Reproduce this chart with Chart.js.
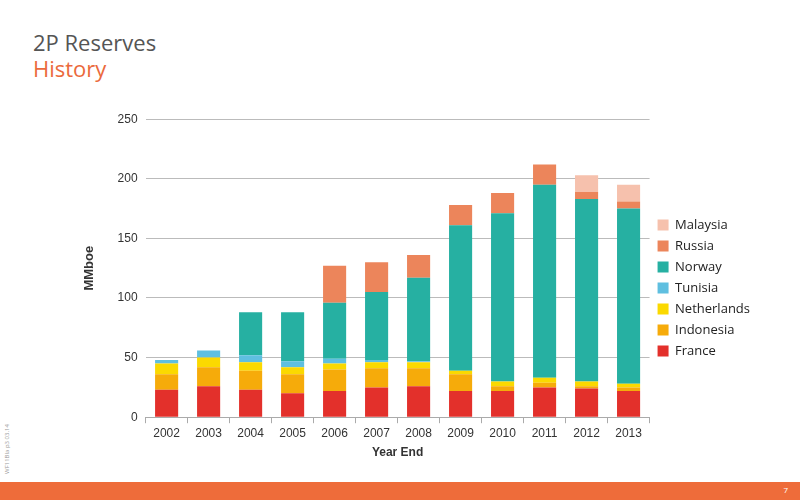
<!DOCTYPE html>
<html><head><meta charset="utf-8">
<script src="https://cdn.jsdelivr.net/npm/chart.js@4"></script>
<style>
body{margin:0;width:800px;height:500px;position:relative;background:#fff;font-family:"Open Sans",sans-serif;overflow:hidden}
#t1{position:absolute;left:33px;top:27px;font-size:22px;color:#555}
#t2{position:absolute;left:33px;top:53px;font-size:22px;color:#eb6a3c}
#wrap{position:absolute;left:70px;top:104px;width:690px;height:358px}
#foot{position:absolute;left:0;top:482px;width:800px;height:18px;background:#ee6c3a}
#pg{position:absolute;right:12px;top:484px;font-size:8px;color:#fff}
#side{position:absolute;left:-18px;top:445px;font-size:6px;color:#999;transform:rotate(-90deg)}
</style></head><body>
<div id="t1">2P Reserves</div><div id="t2">History</div>
<div id="wrap"><canvas id="c"></canvas></div>
<div id="foot"></div><div id="pg">7</div><div id="side">WF11Bla p3 03.14</div>
<script>
const years=["2002","2003","2004","2005","2006","2007","2008","2009","2010","2011","2012","2013"];
const france=[23,26,23,20,22,25,26,22,22,25,24,22];
const indonesia=[13,16,16,16,18,16,15,14,4,4,2,3];
const netherlands=[9,8,7,6,5,5,5,3,4,4,4,3];
const tunisia=[3,6,6,5,4,2,1,0,0,0,0,0];
const norway=[0,0,36,41,47,57,70,122,141,162,153,147];
const russia=[0,0,0,0,31,25,19,17,17,17,6,6];
const malaysia=[0,0,0,0,0,0,0,0,0,0,14,14];
const ds=[["France",france,"#e3302b"],["Indonesia",indonesia,"#f6ab0a"],["Netherlands",netherlands,"#fbd900"],["Tunisia",tunisia,"#5fbfe0"],["Norway",norway,"#26b0a2"],["Russia",russia,"#ec855b"],["Malaysia",malaysia,"#f6c1ad"]];
new Chart(document.getElementById("c"),{type:"bar",
data:{labels:years,datasets:ds.map(d=>({label:d[0],data:d[1],backgroundColor:d[2],barPercentage:0.55,categoryPercentage:1}))},
options:{animation:false,responsive:true,maintainAspectRatio:false,
layout:{padding:{left:0,right:0,top:10}},
plugins:{legend:{position:"right",reverse:true,align:"center",labels:{boxWidth:11,boxHeight:11,color:"#222",font:{size:13,family:"Open Sans"},padding:8}},tooltip:{enabled:false}},
scales:{x:{stacked:true,grid:{display:true,drawOnChartArea:false,tickLength:6,color:"#aaa"},border:{color:"#aaa"},ticks:{color:"#333",font:{size:12}},title:{display:true,text:"Year End",color:"#333",font:{size:12,weight:"bold"},padding:2}},
y:{stacked:true,min:0,max:250,ticks:{stepSize:50,color:"#333",font:{size:12},padding:8},grid:{color:"#bbb",drawTicks:false},border:{display:false},title:{display:true,text:"MMboe",color:"#333",font:{size:13,weight:"bold"},padding:12}}}}});
</script></body></html>
